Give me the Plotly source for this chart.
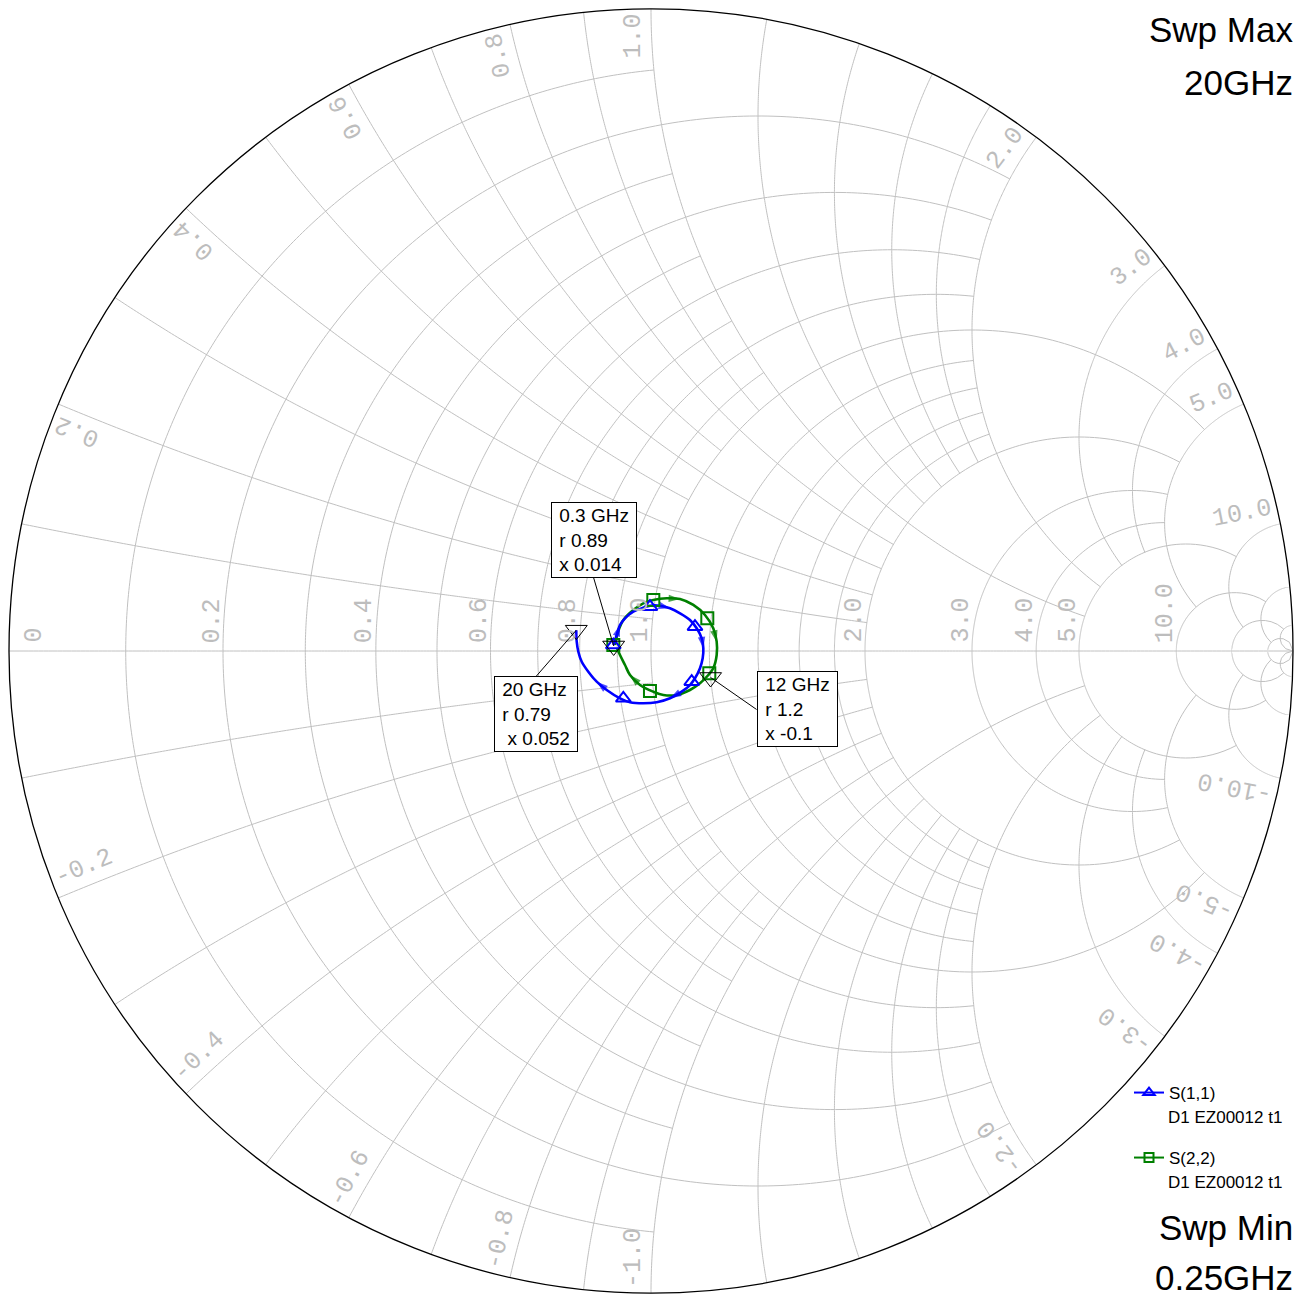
import numpy as np
import plotly.graph_objects as go

# ------------------------------------------------------------------ data
# S-parameters read from the chart as reflection coefficients (Re, Im), sweep 0.25 -> 20 GHz
s11_re = [-0.0587, -0.0534, -0.0483, -0.0405, -0.0276, -0.0120, -0.0016, 0.0140, 0.0296, 0.0452,
          0.0607, 0.0712, 0.0790, 0.0815, 0.0805, 0.0763, 0.0685, 0.0607, 0.0478, 0.0296,
          0.0089, -0.0120, -0.0327, -0.0483, -0.0690, -0.0846, -0.0977, -0.1079, -0.1132, -0.1157,
          -0.1164]
s11_im = [0.0093, 0.0249, 0.0405, 0.0509, 0.0612, 0.0674, 0.0706, 0.0706, 0.0665, 0.0587,
          0.0483, 0.0354, 0.0198, 0.0042, -0.0114, -0.0269, -0.0425, -0.0530, -0.0634, -0.0737,
          -0.0799, -0.0815, -0.0799, -0.0737, -0.0607, -0.0478, -0.0322, -0.0167, -0.0011, 0.0145,
          0.0324]
s22_re = [-0.0561, -0.0514, -0.0431, -0.0276, -0.0120, 0.0036, 0.0245, 0.0452, 0.0659, 0.0841,
          0.0970, 0.1023, 0.1023, 0.0970, 0.0893, 0.0763, 0.0607, 0.0400, 0.0192, 0.0036,
          -0.0171, -0.0327, -0.0405, -0.0483, -0.0530]
s22_im = [0.0093, 0.0296, 0.0483, 0.0639, 0.0743, 0.0794, 0.0821, 0.0810, 0.0717, 0.0561,
          0.0354, 0.0145, -0.0062, -0.0269, -0.0374, -0.0503, -0.0607, -0.0685, -0.0685, -0.0634,
          -0.0530, -0.0374, -0.0218, -0.0062, 0.0047]

# trace symbols (every n-th sweep point)
s11_sym_re = [-0.0587, -0.0016, 0.0685, 0.0634, -0.0431]
s11_sym_im = [0.0093, 0.0690, 0.0379, -0.0478, -0.0737]
s22_sym_re = [-0.0587, 0.0036, 0.0877, 0.0908, -0.0016]
s22_sym_im = [0.0093, 0.0794, 0.0509, -0.0347, -0.0623]

# marker read-outs (normalised impedance)
mk_freq = ["0.3 GHz", "20 GHz", "12 GHz"]
mk_r = [0.89, 0.79, 1.2]
mk_x = [0.014, 0.052, -0.1]

# Smith grid: circle value and the limit of the other coordinate it is drawn to
grid_vals = [0.1, 0.2, 0.3, 0.4, 0.5, 0.6, 0.7, 0.8, 0.9, 1.0,
             1.2, 1.4, 1.6, 1.8, 2.0, 3.0, 4.0, 5.0, 10.0, 20.0, 50.0]
grid_lims = [1, 2, 1, 2, 1, 2, 1, 2, 1, 5,
             2, 2, 2, 2, 5, 5, 5, 10, 20, 50, 1e6]

real_labels = [0, 0.2, 0.4, 0.6, 0.8, 1.0, 2.0, 3.0, 4.0, 5.0, 10.0]
imag_labels = [0.2, 0.4, 0.6, 0.8, 1.0, 2.0, 3.0, 4.0, 5.0, 10.0]

sweep_text = ["Swp Max", "20GHz", "Swp Min", "0.25GHz"]
series_names = ["S(1,1)", "S(2,2)"]
series_source = "D1 EZ00012 t1"

# ------------------------------------------------------------------ geometry / style
W, H = 1302, 1296
ML, MR, MT, MB = 9, 9, 9, 3
PW, PH = W - ML - MR, H - MT - MB
CX, CY = ML + PW / 2, MT + PH / 2
RAD = min(PW, PH) / 2

GRID = "#c0c0c0"
LBL = "#bdbdbd"
FS = 25
BLUE = "#0000ff"
GREEN = "#008000"


def to_z(re, im):
    g = np.array(re) + 1j * np.array(im)
    z = (1 + g) / (1 - g)
    return z.real, z.imag


def z_px(r, x):
    z = complex(r, x)
    g = (z - 1) / (z + 1)
    return CX + RAD * g.real, CY - RAD * g.imag


def paper(px, py):
    return (px - ML) / PW, (MT + PH - py) / PH


fig = go.Figure()

# ---- grid: constant resistance circles
gr, gi = [], []
for v, lim in zip(grid_vals, grid_lims):
    a = np.arctan(lim)
    xs = np.tan(np.linspace(-a, a, 400))
    gr += [v] * len(xs) + [None]
    gi += list(xs) + [None]
# ---- grid: constant reactance arcs
for v, lim in zip(grid_vals, grid_lims):
    a = np.arctan(lim)
    rs = np.tan(np.linspace(0, a, 250))
    for s in (1, -1):
        gr += list(rs) + [None]
        gi += [s * v] * len(rs) + [None]
# real axis
rs = np.tan(np.linspace(0, np.arctan(1e6), 400))
gr += list(rs)
gi += [0.0] * len(rs)

fig.add_trace(go.Scattersmith(real=gr, imag=gi, mode="lines",
                              line=dict(color=GRID, width=1), connectgaps=False,
                              hoverinfo="skip", showlegend=False))

# ---- data traces with direction arrows
arrows11 = [2, 8, 13, 19, 25]
arrows22 = [7, 11, 21]
for re, im, col, arr in [(s22_re, s22_im, GREEN, arrows22), (s11_re, s11_im, BLUE, arrows11)]:
    zr, zi = to_z(re, im)
    sizes = [12 if i in arr else 0 for i in range(len(zr))]
    fig.add_trace(go.Scattersmith(real=zr, imag=zi, mode="lines+markers",
                                  line=dict(color=col, width=2.6, shape="spline"),
                                  marker=dict(symbol="arrow", size=sizes, color=col,
                                              angleref="previous",
                                              line=dict(width=0)),
                                  hoverinfo="skip", showlegend=False))

zr, zi = to_z(s22_sym_re, s22_sym_im)
fig.add_trace(go.Scattersmith(real=zr, imag=zi, mode="markers",
                              marker=dict(symbol="square-open", size=12, color=GREEN,
                                          line=dict(width=2, color=GREEN)),
                              hoverinfo="skip", showlegend=False))
zr, zi = to_z(s11_sym_re, s11_sym_im)
fig.add_trace(go.Scattersmith(real=zr, imag=zi, mode="markers",
                              marker=dict(symbol="triangle-up-open", size=13, color=BLUE,
                                          line=dict(width=2, color=BLUE)),
                              hoverinfo="skip", showlegend=False))

# marker triangles
fig.add_trace(go.Scattersmith(real=mk_r, imag=mk_x, mode="markers",
                              marker=dict(symbol="triangle-down-open", size=19, color="black",
                                          line=dict(width=1, color="black")),
                              hoverinfo="skip", showlegend=False))

# legend-only entries
fig.add_trace(go.Scattersmith(real=[None], imag=[None], mode="lines+markers", name=series_names[0],
                              line=dict(color=BLUE, width=2),
                              marker=dict(symbol="triangle-up-open", size=10, color=BLUE,
                                          line=dict(width=2, color=BLUE)),
                              showlegend=True, legend="legend"))
fig.add_trace(go.Scattersmith(real=[None], imag=[None], mode="lines+markers", name=series_names[1],
                              line=dict(color=GREEN, width=2),
                              marker=dict(symbol="square-open", size=9, color=GREEN,
                                          line=dict(width=2, color=GREEN)),
                              showlegend=True, legend="legend2"))

ann = []
lblfont = dict(family="Liberation Mono", size=FS, color=LBL)

# ---- resistance labels along the real axis
for v in real_labels:
    txt = "0" if v == 0 else f"{v:.1f}"
    px, _ = z_px(v, 0)
    L = len(txt) * 0.6 * FS
    cx = px - 11 if v > 0 else px + 25
    cy = CY - 8 - L / 2
    xp, yp = paper(cx, cy)
    ann.append(dict(x=xp, y=yp, xref="paper", yref="paper", text=txt, showarrow=False,
                    textangle=-90, xanchor="center", yanchor="middle", font=lblfont))

# ---- reactance labels inside the rim
for v in imag_labels:
    for s in (1, -1):
        xv = s * v
        z = complex(0, xv)
        g = (z - 1) / (z + 1)
        th = np.angle(g)
        u = np.array([np.cos(th), np.sin(th)])
        d = u if s > 0 else -u
        n = np.array([-d[1], d[0]])
        txt = f"{xv:.1f}"
        L = len(txt) * 0.6 * FS
        c = RAD * u - u * (5 + L / 2) + n * 18
        xp, yp = paper(CX + c[0], CY - c[1])
        phi = np.degrees(np.arctan2(d[1], d[0]))
        ann.append(dict(x=xp, y=yp, xref="paper", yref="paper", text=txt, showarrow=False,
                        textangle=-phi, xanchor="center", yanchor="middle", font=lblfont))

# ---- marker read-out boxes
box_pos = [(-20, -68, "center", "bottom"), (-40, 46, "center", "top"), (46, 32, "left", "middle")]
indent = ["", "\u00a0", ""]
for i in range(3):
    px, py = z_px(mk_r[i], mk_x[i])
    xp, yp = paper(px, py)
    nb = "\u00a0"
    txt = (f"{nb}{mk_freq[i]}{nb}<br>{nb}r {mk_r[i]:g}{nb}<br>{nb}{indent[i]}x {mk_x[i]:g}{nb}")
    ax, ay, xa, ya = box_pos[i]
    ann.append(dict(x=xp, y=yp, xref="paper", yref="paper", text=txt, showarrow=True,
                    arrowhead=0, arrowwidth=1, arrowcolor="black", ax=ax, ay=ay,
                    xanchor=xa, yanchor=ya, align="left", bgcolor="white",
                    bordercolor="black", borderwidth=1, borderpad=2,
                    font=dict(family="Liberation Sans", size=19, color="black")))

# ---- sweep texts
sw_y = [29, 83, 1227, 1277]
for t, yy in zip(sweep_text, sw_y):
    xp, yp = paper(1295, yy)
    ann.append(dict(x=xp, y=yp, xref="paper", yref="paper", text=t, showarrow=False,
                    xanchor="right", yanchor="middle",
                    font=dict(family="Liberation Sans", size=35, color="black")))

# ---- legend sub-lines
for yy in (1117, 1182):
    xp, yp = paper(1166, yy)
    ann.append(dict(x=xp, y=yp, xref="paper", yref="paper", text=series_source, showarrow=False,
                    xanchor="left", yanchor="middle",
                    font=dict(family="Liberation Sans", size=17, color="black")))

lx, _ = paper(1129, 0)
_, ly1 = paper(0, 1093)
_, ly2 = paper(0, 1158)
legfont = dict(family="Liberation Sans", size=17, color="black")

fig.update_layout(
    width=W, height=H,
    margin=dict(l=ML, r=MR, t=MT, b=MB),
    paper_bgcolor="white", plot_bgcolor="white",
    smith=dict(domain=dict(x=[0, 1], y=[0, 1]), bgcolor="white",
               realaxis=dict(showgrid=False, showline=False, showticklabels=False, ticks=""),
               imaginaryaxis=dict(showgrid=False, showline=True, linecolor="black", linewidth=1.3,
                                  showticklabels=False, ticks="")),
    showlegend=True,
    legend=dict(x=lx, y=ly1, xanchor="left", yanchor="middle", font=legfont,
                bgcolor="rgba(0,0,0,0)", itemwidth=30),
    legend2=dict(x=lx, y=ly2, xanchor="left", yanchor="middle", font=legfont,
                 bgcolor="rgba(0,0,0,0)", itemwidth=30),
    annotations=ann,
)

fig.write_html("out.html")
